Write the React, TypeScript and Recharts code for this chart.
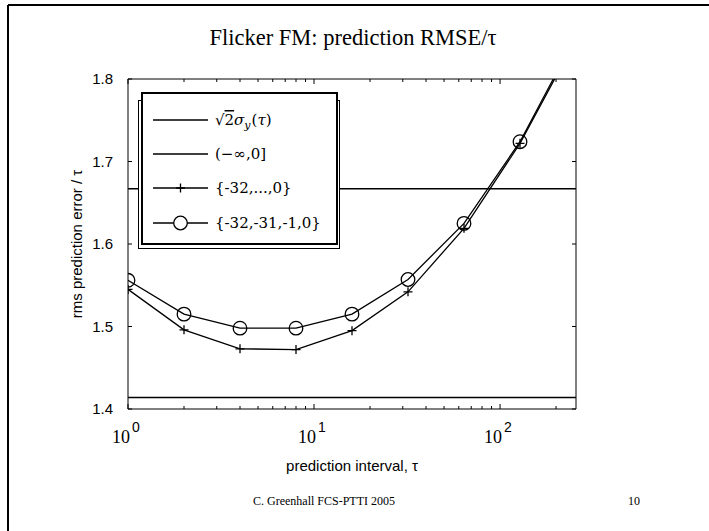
import React from 'react';
import { LineChart, Line, XAxis, YAxis, Legend } from 'recharts';

// prediction interval tau (log axis, 1 ... 256)
const tau = [1, 2, 4, 8, 16, 32, 64, 128, 256];
// reference levels
const sqrt2Sigma = [1.414, 1.414, 1.414, 1.414, 1.414, 1.414, 1.414, 1.414, 1.414];
const infinitePast = [1.667, 1.667, 1.667, 1.667, 1.667, 1.667, 1.667, 1.667, 1.667];
// {-32,...,0}
const past33 = [1.545, 1.496, 1.473, 1.472, 1.495, 1.542, 1.619, 1.722, 1.848];
// {-32,-31,-1,0}
const past4 = [1.556, 1.515, 1.498, 1.498, 1.515, 1.557, 1.625, 1.724, 1.852];

const xTicks = [1, 2, 3, 4, 5, 6, 7, 8, 9, 10, 20, 30, 40, 50, 60, 70, 80, 90, 100, 200];
const xMajor = [1, 10, 100];
const yTicks = [1.4, 1.5, 1.6, 1.7, 1.8];

const legendNames = ['sqrt2sigma', '(−∞,0]', '{-32,...,0}', '{-32,-31,-1,0}'];
const legendMarkers = ['none', 'none', 'plus', 'circle'];

const rows = tau.map((t, i) => ({
  tau: t,
  s2: sqrt2Sigma[i],
  inf: infinitePast[i],
  p33: past33[i],
  p4: past4[i],
}));

const SANS = '"Liberation Sans", Arial, sans-serif';
const SERIF = '"Liberation Serif", "Times New Roman", serif';
const TEX = '"DejaVu Serif", serif';

const BottomTick = (props: any) => {
  const { x, y, payload } = props;
  const v = payload.value;
  const major = xMajor.includes(v);
  return (
    <g>
      <line x1={x} x2={x} y1={y} y2={y - (major ? 5 : 3)} stroke="#000" strokeWidth={1} />
      {major && (
        <g>
          <text x={x + 2} y={y + 34} textAnchor="end" fontFamily={SERIF} fontSize={18} fill="#000">10</text>
          <text x={x + 4} y={y + 23} textAnchor="start" fontFamily={SANS} fontSize={14} fill="#000">
            {String(Math.round(Math.log10(v)))}
          </text>
        </g>
      )}
    </g>
  );
};

const TopTick = (props: any) => {
  const { x, y, payload } = props;
  const major = xMajor.includes(payload.value);
  return <line x1={x} x2={x} y1={y} y2={y + (major ? 5 : 3)} stroke="#000" strokeWidth={1} />;
};

const LeftTick = (props: any) => {
  const { x, y, payload } = props;
  return (
    <g>
      <line x1={x} x2={x + 4} y1={y} y2={y} stroke="#000" strokeWidth={1} />
      <text x={x - 15} y={y + 5} textAnchor="end" fontFamily={SANS} fontSize={15} fill="#000">
        {Number(payload.value).toFixed(1)}
      </text>
    </g>
  );
};

const RightTick = (props: any) => {
  const { x, y } = props;
  return <line x1={x} x2={x - 4} y1={y} y2={y} stroke="#000" strokeWidth={1} />;
};

const YLabel = (props: any) => {
  const vb = props.viewBox || {};
  const cx = vb.x + 14;
  const cy = vb.y + vb.height / 2;
  return (
    <text x={cx} y={cy} transform={`rotate(-90 ${cx} ${cy})`} textAnchor="middle" fontFamily={SANS} fontSize={15} fill="#000">
      rms prediction error / τ
    </text>
  );
};

const XLabel = (props: any) => {
  const vb = props.viewBox || {};
  const cx = vb.x + vb.width / 2;
  return (
    <text x={cx} y={vb.y + 62} textAnchor="middle" fontFamily={SANS} fontSize={15} fill="#000">
      prediction interval, τ
    </text>
  );
};

const PlusDot = (props: any) => {
  const { cx, cy, index } = props;
  if (cx == null || cy == null) return <g key={`pd${index}`} />;
  return (
    <path
      key={`pd${index}`}
      d={`M${cx - 4.5},${cy}H${cx + 4.5}M${cx},${cy - 4.5}V${cy + 4.5}`}
      stroke="#000"
      strokeWidth={1.3}
      fill="none"
    />
  );
};

const LegendLabel = ({ i, y }: { i: number; y: number }) => {
  if (i === 0) {
    return (
      <text x={79} y={y + 5} fontFamily={TEX} fontSize={15} fill="#000">
        <tspan>√</tspan>
        <tspan style={{ textDecoration: 'overline' }}>2</tspan>
        <tspan fontStyle="italic">σ</tspan>
        <tspan fontStyle="italic" fontSize={11} dy={4}>y</tspan>
        <tspan dy={-4} dx={1}>(</tspan>
        <tspan fontStyle="italic">τ</tspan>
        <tspan>)</tspan>
      </text>
    );
  }
  return (
    <text x={79} y={y + 5} fontFamily={TEX} fontSize={15} fill="#000">
      {legendNames[i]}
    </text>
  );
};

const LegendBox = () => {
  const rowY = [30, 64, 98, 133];
  return (
    <svg width={206} height={162} style={{ display: 'block' }}>
      <rect x={2.5} y={10.5} width={201} height={148} fill="#fff" stroke="#000" strokeWidth={1} />
      <rect x={6} y={3} width={195} height={151} fill="#fff" stroke="#000" strokeWidth={2} />
      {legendNames.map((_, i) => {
        const y = rowY[i];
        const m = legendMarkers[i];
        return (
          <g key={i}>
            <line x1={17} x2={72} y1={y} y2={y} stroke="#000" strokeWidth={1.4} />
            {m === 'plus' && (
              <path d={`M${40},${y}H${49}M${44.5},${y - 4.5}V${y + 4.5}`} stroke="#000" strokeWidth={1.3} />
            )}
            {m === 'circle' && <circle cx={44.5} cy={y} r={6.8} fill="#fff" stroke="#000" strokeWidth={1.3} />}
            <LegendLabel i={i} y={y} />
          </g>
        );
      })}
    </svg>
  );
};

export default function App() {
  return (
    <div style={{ position: 'absolute', left: 0, top: 0, width: 709, height: 531, background: '#fff', overflow: 'hidden' }}>
      <LineChart width={709} height={531} data={rows} margin={{ top: 69, right: 123, bottom: 62, left: 68 }}>
        <XAxis
          dataKey="tau"
          type="number"
          scale="log"
          domain={[1, 256]}
          allowDataOverflow
          ticks={xTicks}
          interval={0}
          tick={<BottomTick />}
          tickLine={false}
          tickSize={0}
          tickMargin={0}
          height={60}
          axisLine={{ stroke: '#000', strokeWidth: 1 }}
          label={<XLabel />}
        />
        <XAxis
          xAxisId="top"
          orientation="top"
          dataKey="tau"
          type="number"
          scale="log"
          domain={[1, 256]}
          allowDataOverflow
          ticks={xTicks}
          interval={0}
          tick={<TopTick />}
          tickLine={false}
          tickSize={0}
          tickMargin={0}
          height={10}
          axisLine={{ stroke: '#000', strokeWidth: 1 }}
        />
        <YAxis
          type="number"
          domain={[1.4, 1.8]}
          allowDataOverflow
          ticks={yTicks}
          interval={0}
          tick={<LeftTick />}
          tickLine={false}
          tickSize={0}
          tickMargin={0}
          width={60}
          axisLine={{ stroke: '#000', strokeWidth: 1 }}
          label={<YLabel />}
        />
        <YAxis
          yAxisId="right"
          orientation="right"
          type="number"
          domain={[1.4, 1.8]}
          allowDataOverflow
          ticks={yTicks}
          interval={0}
          tick={<RightTick />}
          tickLine={false}
          tickSize={0}
          tickMargin={0}
          width={10}
          axisLine={{ stroke: '#000', strokeWidth: 1 }}
        />
        <Line dataKey="s2" name="sqrt2sigma" stroke="#000" strokeWidth={1.5} dot={false} isAnimationActive={false} />
        <Line dataKey="inf" name="(−∞,0]" stroke="#000" strokeWidth={1.5} dot={false} isAnimationActive={false} />
        <Line dataKey="p33" name="{-32,...,0}" stroke="#000" strokeWidth={1.3} dot={PlusDot} isAnimationActive={false} />
        <Line
          dataKey="p4"
          name="{-32,-31,-1,0}"
          stroke="#000"
          strokeWidth={1.3}
          dot={{ r: 6.8, fill: 'none', stroke: '#000', strokeWidth: 1.3 }}
          isAnimationActive={false}
        />
        <Legend
          layout="vertical"
          align="center"
          verticalAlign="middle"
          content={<LegendBox />}
          wrapperStyle={{ position: 'absolute', left: 136, top: 90, width: 206, height: 162 }}
        />
      </LineChart>
      <svg width={709} height={531} style={{ position: 'absolute', left: 0, top: 0, pointerEvents: 'none' }}>
        <line x1={8} x2={709} y1={5} y2={5} stroke="#000" strokeWidth={2} />
        <line x1={8} x2={8} y1={5} y2={531} stroke="#000" strokeWidth={2} />
        <text x={353} y={45} textAnchor="middle" fontFamily={SERIF} fontSize={22.5} fill="#000">
          Flicker FM: prediction RMSE/τ
        </text>
        <text x={324} y={505} textAnchor="middle" fontFamily={SERIF} fontSize={12} fill="#000">
          C. Greenhall FCS-PTTI 2005
        </text>
        <text x={634} y={505} textAnchor="middle" fontFamily={SERIF} fontSize={12} fill="#000">
          10
        </text>
      </svg>
    </div>
  );
}
